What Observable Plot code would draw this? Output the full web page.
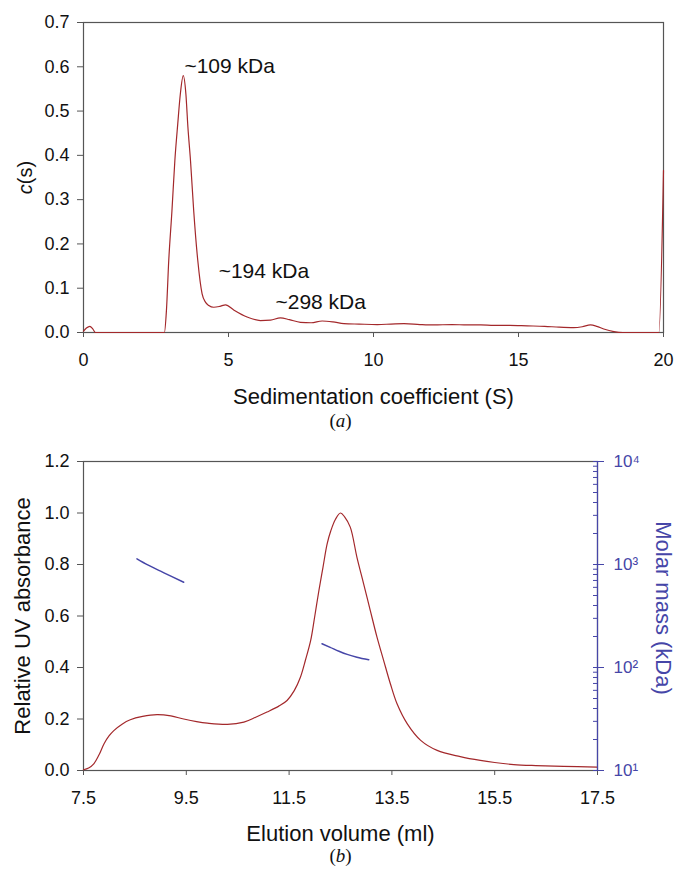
<!DOCTYPE html>
<html><head><meta charset="utf-8">
<script src="https://cdn.jsdelivr.net/npm/d3@7"></script>
<script src="https://cdn.jsdelivr.net/npm/@observablehq/plot@0.6"></script>
<style>
body{margin:0;background:#fff;font-family:"Liberation Sans",Arial,sans-serif;}
#wrap{position:relative;width:675px;height:872px;overflow:hidden;}
.panel{position:absolute;left:0;}
.cap{position:absolute;left:3px;width:675px;text-align:center;font-family:"Liberation Serif","Times New Roman",serif;font-size:19px;line-height:19px;color:#111;}
</style></head><body><div id="wrap"></div>
<script>
// ---------- Panel (a): c(s) distribution ----------
const sedS = [0, 0.1, 0.22, 0.32, 0.41, 1.0, 2.0, 2.79, 2.86, 2.94, 3.05, 3.15, 3.25, 3.34, 3.44, 3.53, 3.6, 3.69, 3.8, 3.94, 4.09, 4.21, 4.32, 4.49, 4.7, 4.9, 5.18, 5.64, 6.1, 6.45, 6.79, 7.1, 7.48, 7.85, 8.23, 8.6, 8.98, 9.5, 10.13, 10.6, 11.05, 11.6, 12.08, 12.7, 13.23, 13.7, 14.15, 14.7, 15.3, 15.9, 16.4, 16.9, 17.2, 17.48, 17.7, 17.94, 18.29, 18.6, 19.0, 19.5, 19.84, 20.0];
const csVal = [0.003, 0.010, 0.014, 0.008, 0, 0, 0, 0, 0.05, 0.163, 0.275, 0.388, 0.471, 0.539, 0.58, 0.539, 0.464, 0.388, 0.275, 0.163, 0.087, 0.068, 0.061, 0.057, 0.059, 0.0625, 0.051, 0.035, 0.027, 0.028, 0.033, 0.029, 0.023, 0.022, 0.026, 0.024, 0.02, 0.019, 0.018, 0.019, 0.02, 0.018, 0.017, 0.018, 0.017, 0.017, 0.016, 0.016, 0.015, 0.014, 0.012, 0.011, 0.013, 0.017, 0.014, 0.008, 0.002, 0, 0, 0, 0, 0.366];
const peakLabels = ["~109 kDa", "~194 kDa", "~298 kDa"];
const peakLabelS = [3.48, 4.66, 6.62];
const peakLabelC = [0.587, 0.124, 0.054];
const sTicks = [0, 5, 10, 15, 20];
const cTicks = [0, 0.1, 0.2, 0.3, 0.4, 0.5, 0.6, 0.7];

// ---------- Panel (b): SEC-MALS ----------
const elV = [7.5, 7.6, 7.7, 7.8, 7.9, 8.0, 8.09, 8.25, 8.41, 8.65, 8.93, 9.2, 9.45, 9.7, 9.91, 10.3, 10.62, 10.85, 11.07, 11.3, 11.46, 11.6, 11.72, 11.82, 11.92, 12.0, 12.08, 12.16, 12.24, 12.31, 12.4, 12.5, 12.58, 12.69, 12.82, 12.95, 13.08, 13.21, 13.34, 13.47, 13.6, 13.8, 14.06, 14.38, 14.83, 15.22, 15.5, 15.87, 16.3, 16.84, 17.49];
const uvA = [0.003, 0.01, 0.026, 0.06, 0.104, 0.135, 0.155, 0.18, 0.197, 0.21, 0.217, 0.212, 0.2, 0.19, 0.184, 0.179, 0.188, 0.207, 0.227, 0.25, 0.272, 0.31, 0.362, 0.43, 0.505, 0.6, 0.699, 0.79, 0.88, 0.93, 0.975, 1.0, 0.985, 0.945, 0.828, 0.725, 0.621, 0.518, 0.427, 0.337, 0.259, 0.181, 0.117, 0.078, 0.054, 0.039, 0.031, 0.023, 0.019, 0.016, 0.013];
const massV1 = [8.54, 8.75, 9.0, 9.2, 9.45];
const massM1 = [1135, 990, 861, 770, 673];
const massV2 = [12.14, 12.3, 12.47, 12.63, 12.82, 13.05];
const massM2 = [170, 157, 144, 134, 126, 119];
const vTicks = [7.5, 9.5, 11.5, 13.5, 15.5, 17.5];
const aTicks = [0, 0.2, 0.4, 0.6, 0.8, 1.0, 1.2];
const mMajor = [10, 100, 1000, 10000];
const mMinor = [20,30,40,50,60,70,80,90,200,300,400,500,600,700,800,900,2000,3000,4000,5000,6000,7000,8000,9000];

const FONT = "'Liberation Sans', Arial, Helvetica, sans-serif";
const RED = "#a3282b";
const BLUE = "#4646a8";
const AXIS = "#555";
const TXT = "#111";
const sup = {1: "¹", 2: "²", 3: "³", 4: "⁴"};

const sedData = sedS.map((s, i) => ({s, c: csVal[i]}));
const annot = peakLabels.map((label, i) => ({label, s: peakLabelS[i], c: peakLabelC[i]}));
const uvData = elV.map((v, i) => ({v, a: uvA[i]}));
const mass1 = massV1.map((v, i) => ({v, m: massM1[i]}));
const mass2 = massV2.map((v, i) => ({v, m: massM2[i]}));

const baseStyle = {fontFamily: FONT, fontSize: "18px", color: TXT, background: "transparent", overflow: "visible"};

const topPlot = Plot.plot({
  width: 675, height: 440,
  marginTop: 22, marginBottom: 108, marginLeft: 83, marginRight: 12,
  style: baseStyle,
  x: {domain: [0, 20]},
  y: {domain: [0, 0.7]},
  marks: [
    Plot.frame({stroke: AXIS, strokeWidth: 1.2}),
    Plot.axisX({ticks: sTicks, tickSize: 5, tickPadding: 16, tickFormat: d => String(d), label: null, stroke: AXIS, fontSize: 18}),
    Plot.axisY({ticks: cTicks, tickSize: 6, tickPadding: 8, tickFormat: d3.format(".1f"), label: null, stroke: AXIS, fontSize: 18}),
    Plot.line(sedData, {x: "s", y: "c", stroke: RED, strokeWidth: 1.2, curve: "monotone-x"}),
    Plot.text(annot, {x: "s", y: "c", text: "label", textAnchor: "start", lineAnchor: "bottom", fontSize: 21, fill: TXT}),
    Plot.text(["Sedimentation coefficient (S)"], {frameAnchor: "bottom", dy: 71, lineAnchor: "bottom", textAnchor: "middle", fontSize: 22, fill: TXT}),
    Plot.text(["c(s)"], {frameAnchor: "left", dx: -58, rotate: -90, textAnchor: "middle", fontSize: 20, fill: TXT})
  ]
});

const botPlot = Plot.plot({
  width: 675, height: 432,
  marginTop: 21, marginBottom: 102, marginLeft: 83, marginRight: 78,
  style: baseStyle,
  x: {domain: [7.5, 17.5]},
  y: {domain: [0, 1.2]},
  marks: [
    Plot.frame({stroke: AXIS, strokeWidth: 1.2}),
    Plot.axisX({ticks: vTicks, tickSize: 5, tickPadding: 16, tickFormat: d3.format(".1f"), label: null, stroke: AXIS, fontSize: 18}),
    Plot.axisY({ticks: aTicks, tickSize: 6, tickPadding: 8, tickFormat: d3.format(".1f"), label: null, stroke: AXIS, fontSize: 18}),
    Plot.line(uvData, {x: "v", y: "a", stroke: RED, strokeWidth: 1.2, curve: "catmull-rom"}),
    Plot.text(["Elution volume (ml)"], {frameAnchor: "bottom", dy: 70, lineAnchor: "bottom", textAnchor: "middle", fontSize: 22, fill: TXT}),
    Plot.text(["Relative UV absorbance"], {frameAnchor: "left", dx: -61, rotate: -90, textAnchor: "middle", fontSize: 22, fill: TXT})
  ]
});

const massPlot = Plot.plot({
  width: 675, height: 432,
  marginTop: 21, marginBottom: 102, marginLeft: 83, marginRight: 78,
  style: baseStyle,
  x: {domain: [7.5, 17.5], axis: null},
  y: {type: "log", domain: [10, 10000], axis: null},
  marks: [
    Plot.ruleX([17.5], {stroke: BLUE, strokeWidth: 1.2}),
    Plot.axisY({anchor: "right", ticks: mMajor, tickSize: 6, tickFormat: () => "", label: null, stroke: BLUE}),
    Plot.axisY({anchor: "right", ticks: [...mMajor, ...mMinor], tickSize: 5, dx: -5, tickFormat: () => "", label: null, stroke: BLUE}),
    Plot.axisY({anchor: "right", ticks: mMajor, tickSize: 6, tickPadding: 10, fontSize: 17, color: BLUE, stroke: BLUE, label: null,
      tickFormat: d => "10" + sup[Math.round(Math.log10(d))]}),
    Plot.line(mass1, {x: "v", y: "m", stroke: BLUE, strokeWidth: 1.5, curve: "monotone-x"}),
    Plot.line(mass2, {x: "v", y: "m", stroke: BLUE, strokeWidth: 1.5, curve: "monotone-x"}),
    Plot.text(["Molar mass (kDa)"], {frameAnchor: "right", dx: 66, dy: -8, rotate: 90, textAnchor: "middle", fontSize: 22, fill: BLUE})
  ]
});

// italic "c" in c(s)
d3.select(topPlot).selectAll("text").filter(function() { return this.textContent === "c(s)"; })
  .each(function() {
    const t = d3.select(this);
    t.text(null);
    t.append("tspan").attr("font-style", "italic").text("c");
    t.append("tspan").text("(s)");
  });

const wrap = document.getElementById("wrap");
function place(el, top) { el.classList.add("panel"); el.style.top = top + "px"; wrap.appendChild(el); }
place(topPlot, 0);
place(botPlot, 440);
place(massPlot, 440);

function caption(letter, top) {
  const d = document.createElement("div");
  d.className = "cap";
  d.style.top = top + "px";
  d.innerHTML = "(<i>" + letter + "</i>)";
  wrap.appendChild(d);
}
caption("a", 411);
caption("b", 846);
</script></body></html>
